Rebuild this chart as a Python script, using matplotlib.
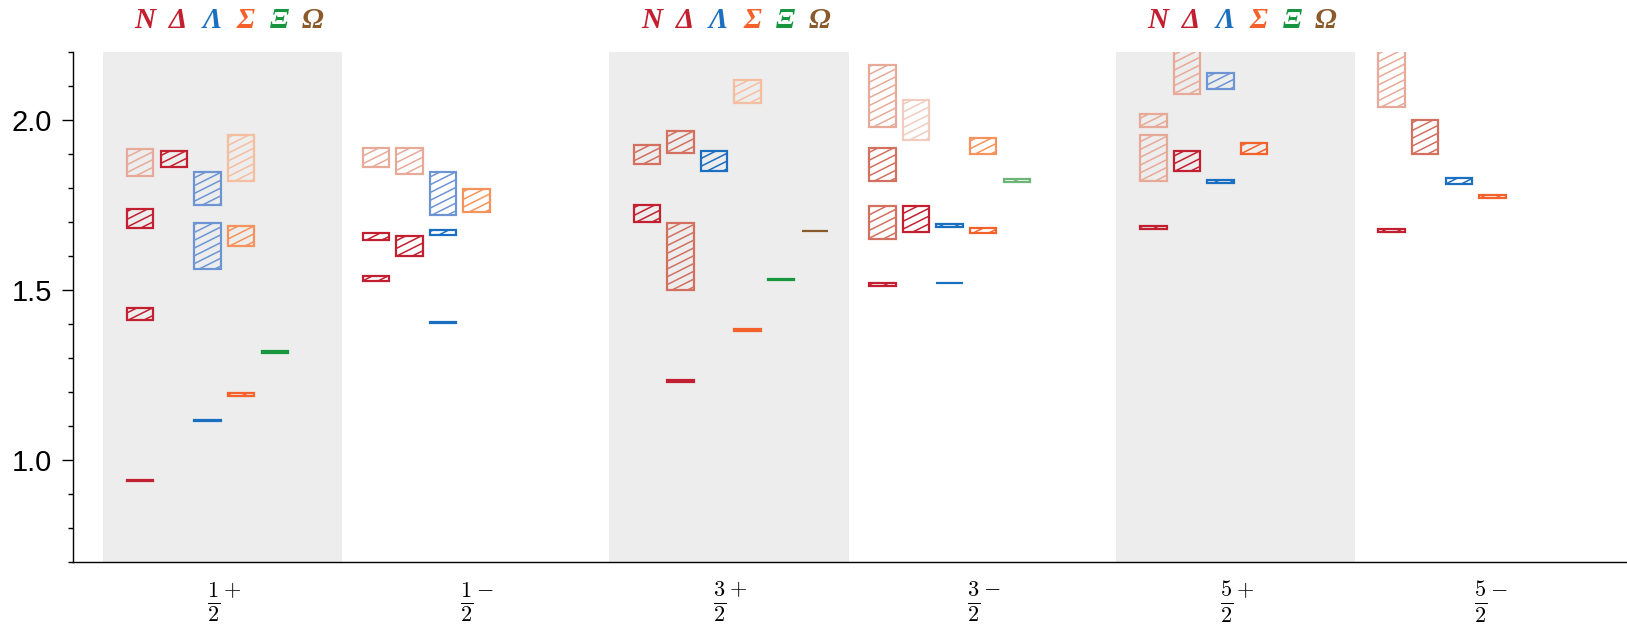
import numpy as np
import matplotlib
matplotlib.use('Agg')
import matplotlib.pyplot as plt
from matplotlib.patches import Rectangle
from matplotlib.collections import LineCollection
from matplotlib.transforms import blended_transform_factory

plt.rcParams['mathtext.fontset'] = 'cm'

# J^P columns
jp_labels = [r'$\frac{\mathbf{1}}{\mathbf{2}}^{+}$', r'$\frac{\mathbf{1}}{\mathbf{2}}^{-}$',
             r'$\frac{\mathbf{3}}{\mathbf{2}}^{+}$', r'$\frac{\mathbf{3}}{\mathbf{2}}^{-}$',
             r'$\frac{\mathbf{5}}{\mathbf{2}}^{+}$', r'$\frac{\mathbf{5}}{\mathbf{2}}^{-}$']
tick_x = [0, 1, 2, 3, 4, 5]
group_x = [0, 0.93, 2, 2.93, 4, 4.94]
shaded = [0, 2, 4]

species = ['N', 'Δ', 'Λ', 'Σ', 'Ξ', 'Ω']
# colours by rating: 4 stars, 3, 2, 1
species_colors = {
    'N': ['#c21f30', '#d3705f', '#e8aa98', '#f2cdbf'],
    'Δ': ['#c21f30', '#d3705f', '#e8aa98', '#f2cdbf'],
    'Λ': ['#1b6fc0', '#6e95d3', '#a9c0e6', '#d0ddf2'],
    'Σ': ['#f4612b', '#f6935c', '#f5bea0', '#f9dccb'],
    'Ξ': ['#17963f', '#6db477', '#a9d4b0', '#d2e9d6'],
    'Ω': ['#8b5a2b', '#b08a66', '#cdb6a0', '#e5d9cd'],
}

# states: J^P column, species, mass range (GeV), rating
state_jp = [0, 0, 0, 0, 0, 0, 0, 0, 0, 0, 0, 0,
            1, 1, 1, 1, 1, 1, 1, 1, 1,
            2, 2, 2, 2, 2, 2, 2, 2, 2, 2,
            3, 3, 3, 3, 3, 3, 3, 3, 3, 3, 3,
            4, 4, 4, 4, 4, 4, 4, 4,
            5, 5, 5, 5, 5]
state_sp = ['N', 'N', 'N', 'N', 'Δ', 'Λ', 'Λ', 'Λ', 'Σ', 'Σ', 'Σ', 'Ξ',
            'N', 'N', 'N', 'Δ', 'Δ', 'Λ', 'Λ', 'Λ', 'Σ',
            'N', 'N', 'Δ', 'Δ', 'Δ', 'Λ', 'Σ', 'Σ', 'Ξ', 'Ω',
            'N', 'N', 'N', 'N', 'Δ', 'Δ', 'Λ', 'Λ', 'Σ', 'Σ', 'Ξ',
            'N', 'N', 'N', 'Δ', 'Δ', 'Λ', 'Λ', 'Σ',
            'N', 'N', 'Δ', 'Λ', 'Σ']
state_lo = [0.938, 1.411, 1.681, 1.835, 1.861, 1.115, 1.561, 1.750, 1.189, 1.630, 1.820, 1.315,
            1.526, 1.646, 1.861, 1.600, 1.841, 1.403, 1.662, 1.721, 1.730,
            1.700, 1.871, 1.230, 1.501, 1.902, 1.851, 1.380, 2.050, 1.529, 1.672,
            1.511, 1.651, 1.819, 1.980, 1.671, 1.940, 1.519, 1.685, 1.666, 1.899, 1.817,
            1.680, 1.820, 1.979, 1.850, 2.075, 1.815, 2.090, 1.900,
            1.670, 2.039, 1.900, 1.811, 1.769]
state_hi = [0.939, 1.448, 1.739, 1.914, 1.909, 1.116, 1.698, 1.848, 1.196, 1.688, 1.957, 1.321,
            1.542, 1.668, 1.917, 1.659, 1.917, 1.405, 1.677, 1.847, 1.797,
            1.749, 1.927, 1.234, 1.697, 1.967, 1.908, 1.384, 2.118, 1.532, 1.673,
            1.519, 1.747, 1.917, 2.163, 1.747, 2.058, 1.520, 1.693, 1.683, 1.948, 1.827,
            1.688, 1.957, 2.019, 1.909, 2.260, 1.823, 2.139, 1.933,
            1.678, 2.260, 1.999, 1.828, 1.779]
state_rating = [4, 4, 4, 2, 4, 4, 3, 3, 4, 3, 2, 4,
                4, 4, 2, 4, 2, 4, 4, 3, 3,
                4, 3, 4, 3, 3, 4, 4, 2, 4, 4,
                4, 3, 3, 2, 4, 1, 4, 4, 4, 3, 3,
                4, 2, 2, 4, 2, 4, 3, 4,
                4, 2, 3, 4, 4]

sp_step = 0.1327
box_w = 0.104
hatch_gap = 7.8   # px, vertical distance between hatch lines
hatch_slope = 0.5

fig = plt.figure(figsize=(16.27, 6.26), dpi=100)
ax = fig.add_axes([0.04505, 0.1027, 1 - 0.04505, 0.8142])
ax.set_xlim(-0.596, 5.538)
ax.set_ylim(0.7, 2.2)

for g in shaded:
    ax.axvspan(group_x[g] - 0.48, group_x[g] + 0.465, color='#ededed', lw=0, zorder=0)


def hatch_box(x0, x1, y0, y1, color):
    rect = Rectangle((x0, y0), x1 - x0, y1 - y0, fill=False, edgecolor=color,
                     lw=1.6, joinstyle='miter', zorder=3)
    ax.add_patch(rect)
    (X0, Y0), (X1, Y1) = ax.transData.transform([(x0, y0), (x1, y1)])
    c_lo = Y0 - hatch_slope * X1
    c_hi = Y1 - hatch_slope * X0
    inv = ax.transData.inverted()
    segs = []
    for k in np.arange(np.ceil(c_lo / hatch_gap), np.floor(c_hi / hatch_gap) + 1):
        c = k * hatch_gap
        segs.append(inv.transform([(X0, hatch_slope * X0 + c), (X1, hatch_slope * X1 + c)]))
    lc = LineCollection(segs, colors=color, linewidths=1.1, zorder=2)
    ax.add_collection(lc, autolim=False)
    # keep the axes clip box, add the box outline as clip path
    lc.set_clip_path(rect.get_path(), rect.get_transform())


for jp, sp, lo, hi, r in zip(state_jp, state_sp, state_lo, state_hi, state_rating):
    xc = group_x[jp] + (species.index(sp) - 2.5) * sp_step
    hatch_box(xc - box_w / 2, xc + box_w / 2, lo, hi, species_colors[sp][4 - r])

# species header above the shaded columns
trans = blended_transform_factory(ax.transData, ax.transAxes)
for g in shaded:
    for j, sp in enumerate(species):
        ax.text(group_x[g] + (j - 2.5) * sp_step + 0.018, 1.061, sp, transform=trans,
                ha='center', va='center', fontsize=21, fontweight='bold', fontstyle='italic',
                family=['Liberation Serif', 'DejaVu Serif'], color=species_colors[sp][0],
                clip_on=False)

ax.set_yticks([1.0, 1.5, 2.0])
ax.set_yticklabels(['1.0', '1.5', '2.0'], fontsize=21, family='Liberation Sans')
ax.set_yticks(np.arange(0.7, 2.21, 0.1), minor=True)
ax.tick_params(axis='y', which='major', length=7.6, width=1, pad=8)
ax.tick_params(axis='y', which='minor', length=3.6, width=1)

ax.set_xticks(tick_x)
ax.set_xticklabels(jp_labels, fontsize=23)
ax.tick_params(axis='x', which='both', length=0, pad=13)

for s in ['top', 'right']:
    ax.spines[s].set_visible(False)
for s in ['left', 'bottom']:
    ax.spines[s].set_linewidth(1)

fig.savefig('out.png', dpi=100)
